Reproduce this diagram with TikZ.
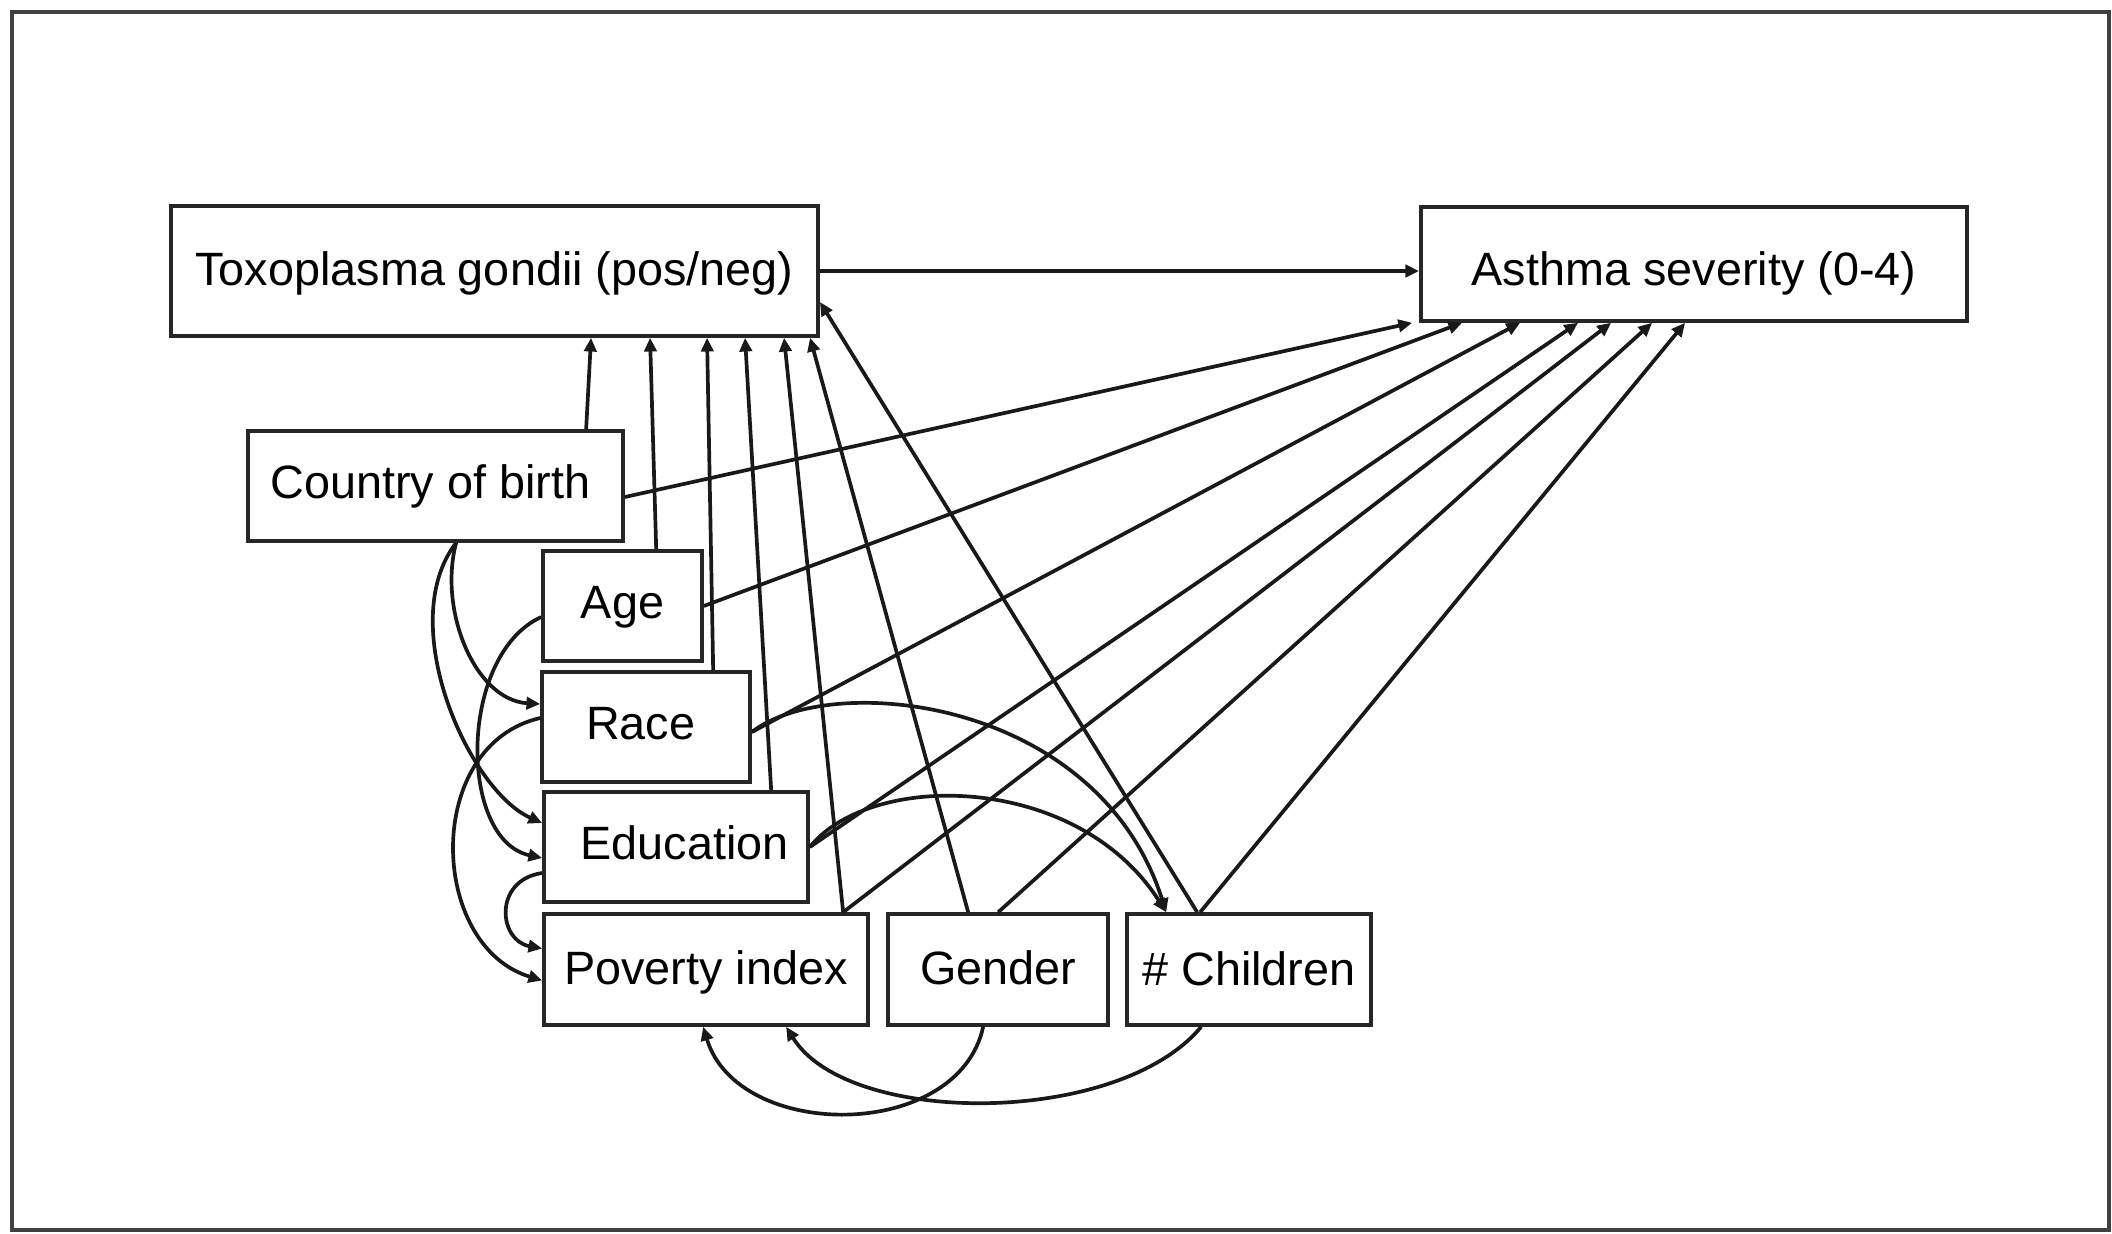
\documentclass[tikz,border=0pt]{standalone}
\usepackage{fontspec}
\setmainfont{Liberation Sans}
\usetikzlibrary{arrows.meta,calc}
\begin{document}
\begin{tikzpicture}[x=0.01cm,y=-0.01cm,
  box/.style={draw=black!85,line width=1pt,inner sep=0pt,align=center,text height=9.7pt,text depth=2.8pt,font=\fontsize{13.3pt}{16pt}\selectfont},
  conn/.style={line width=1.05pt,draw=black!90,-{Triangle[length=3.9pt,width=3.5pt]}},
]
\useasboundingbox (0,0) rectangle (2112,1233);
\draw[black!75,line width=1pt] (12,12) rectangle (2109,1230);

\node[box,minimum width=6.47cm,minimum height=1.30cm] (toxo) at (494.5,271) {\raisebox{-0.8pt}{Toxoplasma gondii (pos/neg)}};
\node[box,minimum width=5.46cm,minimum height=1.14cm] (asth) at (1694,264) {\raisebox{-2.7pt}{Asthma severity (0-4)}};
\node[box,minimum width=3.75cm,minimum height=1.10cm] (cob) at (435.5,486) {\hspace*{-3pt}Country of birth};
\node[box,minimum width=1.59cm,minimum height=1.10cm] (age) at (622.5,606) {Age};
\node[box,minimum width=2.08cm,minimum height=1.10cm] (race) at (646,727) {\hspace*{-3pt}Race};
\node[box,minimum width=2.64cm,minimum height=1.10cm] (edu) at (676,847) {\hspace*{5pt}Education};
\node[box,minimum width=3.24cm,minimum height=1.11cm] (pov) at (706,969.5) {\raisebox{-0.8pt}{Poverty index}};
\node[box,minimum width=2.20cm,minimum height=1.11cm] (gen) at (998,969.5) {\raisebox{-0.7pt}{Gender}};
\node[box,minimum width=2.44cm,minimum height=1.11cm] (chi) at (1249,969.5) {\raisebox{-1.1pt}{\# Children}};

% arrows into Toxoplasma
\draw[conn] ($(cob.north west)+(340,0)$) -- ($(toxo.south west)+(422,0)$);
\draw[conn] ($(age.north west)+(115,0)$) -- ($(toxo.south west)+(481,0)$);
\draw[conn] ($(race.north west)+(173,0)$) -- ($(toxo.south west)+(538,0)$);
\draw[conn] ($(edu.north west)+(229,0)$) -- ($(toxo.south west)+(576,0)$);
\draw[conn] ($(pov.north west)+(301,0)$) -- ($(toxo.south west)+(615,0)$);
\draw[conn] ($(gen.north west)+(82,0)$) -- ($(toxo.south west)+(641,0)$);
\draw[conn] ($(chi.north west)+(72,0)$) -- ($(toxo.east)+(0,31)$);
\draw[conn] (toxo.east) -- (toxo.east -| asth.west);

% arrows into Asthma
\draw[conn] ($(cob.east)+(0,11)$) -- ($(asth.south west)+(-7,0)$);
\draw[conn] (age.east) -- ($(asth.south west)+(43,0)$);
\draw[conn] ($(race.east)+(0,5)$) -- ($(asth.south west)+(101,0)$);
\draw[conn] (edu.east) -- ($(asth.south west)+(159,0)$);
\draw[conn] ($(pov.north west)+(301,0)$) -- ($(asth.south west)+(192,0)$);
\draw[conn] ($(gen.north west)+(112,0)$) -- ($(asth.south west)+(233,0)$);
\draw[conn] ($(chi.north west)+(75,0)$) -- ($(asth.south west)+(266,0)$);

% curved arrows on the left
\draw[conn] ($(cob.south west)+(210,0)$) .. controls +(-18,68) and +(-65,-4) .. ($(race.west)+(0,-23)$);
\draw[conn] ($(cob.south west)+(210,0)$) .. controls +(-62,80) and +(-74,-33) .. ($(edu.west)+(0,-24)$);
\draw[conn] ($(age.west)+(0,11)$) .. controls +(-83,38) and +(-84,-18) .. ($(edu.west)+(0,11)$);
\draw[conn] ($(race.west)+(0,-9)$) .. controls +(-117,27) and +(-114,-35) .. ($(pov.west)+(0,11)$);
\draw[conn] ($(edu.west)+(0,26)$) .. controls +(-49,7) and +(-44,-8) .. ($(pov.west)+(0,-21)$);

% arcs to # Children
\draw[conn] ($(race.east)+(0,5)$) .. controls +(80,-62) and +(-68,-214) .. ($(chi.north west)+(41,0)$);
\draw[conn] (edu.east) .. controls +(62,-77) and +(-88,-139) .. ($(chi.north west)+(41,0)$);

% arcs below to Poverty index
\draw[conn] ($(gen.south west)+(97,0)$) .. controls +(-25,115) and +(35,115) .. ($(pov.south west)+(161,0)$);
\draw[conn] ($(chi.south west)+(76,0)$) .. controls +(-83,100) and +(62,100) .. ($(pov.south west)+(244,0)$);
\end{tikzpicture}
\end{document}
